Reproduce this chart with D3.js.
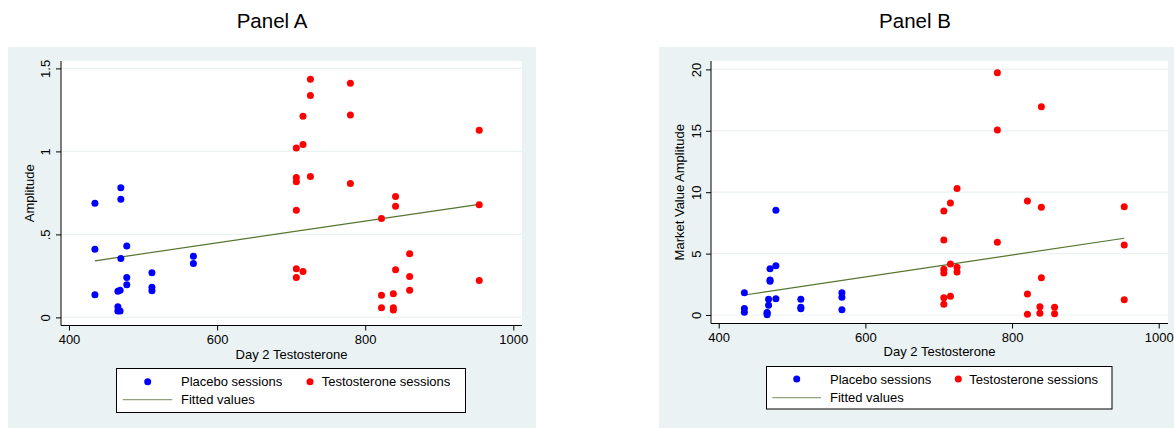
<!DOCTYPE html>
<html>
<head>
<meta charset="utf-8">
<style>
  body { margin: 0; background: #fff; }
  text { font-family: "Liberation Sans", Arial, sans-serif; }
</style>
</head>
<body>
<script src="https://d3js.org/d3.v7.min.js"></script>
<script>
// Panel A: amplitude vs day 2 testosterone
var placeboXA = [435, 435, 435, 470, 470, 470, 466, 466, 466, 469, 469, 478, 478, 478, 512, 512, 512, 568, 568];
var placeboYA = [0.687, 0.41, 0.136, 0.781, 0.711, 0.355, 0.158, 0.064, 0.038, 0.164, 0.038, 0.43, 0.241, 0.196, 0.269, 0.181, 0.16, 0.369, 0.325];
var testoXA = [707, 707, 707, 707, 707, 707, 716, 716, 716, 726, 726, 726, 780, 780, 780, 822, 822, 822, 838, 838, 838, 841, 841, 841, 860, 860, 860, 954, 954, 954];
var testoYA = [1.02, 0.843, 0.817, 0.646, 0.293, 0.241, 1.211, 1.042, 0.277, 1.434, 1.337, 0.849, 1.41, 1.219, 0.807, 0.596, 0.134, 0.058, 0.142, 0.058, 0.044, 0.729, 0.669, 0.287, 0.383, 0.247, 0.163, 1.128, 0.678, 0.223];
var fitXA = [435, 954];
var fitYA = [0.341, 0.681];

// Panel B: market value amplitude vs day 2 testosterone
var placeboXB = [435, 435, 435, 470, 470, 470, 468, 468, 466, 466, 466, 478, 478, 478, 512, 512, 512, 568, 568, 568];
var placeboYB = [1.82, 0.52, 0.22, 3.77, 2.85, 2.74, 1.28, 0.79, 0.2, 0.16, 0.03, 8.53, 4.02, 1.33, 1.28, 0.63, 0.51, 1.82, 1.44, 0.43];
var testoXB = [707, 707, 707, 707, 707, 707, 716, 716, 716, 725, 725, 725, 780, 780, 780, 821, 821, 821, 838, 838, 840, 840, 840, 858, 858, 953, 953, 953];
var testoYB = [8.47, 6.11, 3.72, 3.42, 1.41, 0.87, 9.12, 4.15, 1.52, 10.31, 3.88, 3.5, 19.73, 15.07, 5.92, 9.28, 1.71, 0.06, 0.68, 0.14, 16.96, 8.77, 3.04, 0.63, 0.11, 8.82, 5.7, 1.25];
var fitXB = [435, 953];
var fitYB = [1.63, 6.25];

var xTicks = [400, 600, 800, 1000];
var yTicksA = [0, 0.5, 1, 1.5];
var yTickLabelsA = ["0", ".5", "1", "1.5"];
var yTicksB = [0, 5, 10, 15, 20];
var yTickLabelsB = ["0", "5", "10", "15", "20"];

var width = 1174, height = 428;
var bg = "#eaf2f3";
var fitColor = "#55752f";

var svg = d3.select("body").append("svg")
  .attr("width", width)
  .attr("height", height);

function drawPanel(p) {
  var g = svg.append("g");

  // title
  g.append("text")
    .attr("x", p.titleX).attr("y", 28)
    .attr("text-anchor", "middle")
    .style("font-size", "20.5px")
    .text(p.title);

  // graph region
  g.append("rect")
    .attr("x", p.bgLeft).attr("y", 47)
    .attr("width", p.bgRight - p.bgLeft).attr("height", 381)
    .attr("fill", bg);

  // plot region
  g.append("rect")
    .attr("x", p.left).attr("y", p.top)
    .attr("width", p.right - p.left).attr("height", p.bottom - p.top)
    .attr("fill", "#fff");

  var x = d3.scaleLinear().domain([400, 1000]).range(p.xRange);
  var y = d3.scaleLinear().domain(p.yDomain).range(p.yRange);

  // gridlines
  g.selectAll(".grid").data(p.yTicks).enter().append("line")
    .attr("x1", p.left).attr("x2", p.right)
    .attr("y1", function(d) { return y(d); })
    .attr("y2", function(d) { return y(d); })
    .attr("stroke", bg).attr("stroke-width", 1.2);

  // y axis
  var yAxis = g.append("g")
    .attr("transform", "translate(" + p.left + ",0)")
    .call(d3.axisLeft(y).tickValues(p.yTicks).tickSize(5)
      .tickFormat(function(d, i) { return p.yLabels[i]; }));
  yAxis.select(".domain").remove();
  yAxis.selectAll("text")
    .attr("transform", "rotate(-90)")
    .attr("x", 0).attr("y", p.yLabelOff).attr("dy", 0)
    .attr("text-anchor", "middle")
    .attr("fill", "#000")
    .style("font-size", "13px").style("font-family", "Liberation Sans, Arial, sans-serif");
  g.append("line")
    .attr("x1", p.left).attr("x2", p.left)
    .attr("y1", p.top).attr("y2", p.bottom)
    .attr("stroke", "#000");

  // x axis
  var xAxis = g.append("g")
    .attr("transform", "translate(0," + p.bottom + ")")
    .call(d3.axisBottom(x).tickValues(xTicks).tickSize(5).tickFormat(d3.format("d")));
  xAxis.select(".domain").remove();
  xAxis.selectAll("text")
    .attr("y", p.xLabelOff).attr("dy", 0)
    .attr("fill", "#000")
    .style("font-size", "13px").style("font-family", "Liberation Sans, Arial, sans-serif");
  g.append("line")
    .attr("x1", p.left).attr("x2", p.right)
    .attr("y1", p.bottom).attr("y2", p.bottom)
    .attr("stroke", "#000");

  // axis titles
  g.append("text")
    .attr("x", (p.left + p.right) / 2).attr("y", p.xTitleY)
    .attr("text-anchor", "middle")
    .style("font-size", "13px")
    .text("Day 2 Testosterone");
  g.append("text")
    .attr("transform", "translate(" + p.yTitleX + "," + ((p.top + p.bottom) / 2) + ") rotate(-90)")
    .attr("text-anchor", "middle")
    .style("font-size", "13px")
    .text(p.yTitle);

  // fitted line
  g.append("line")
    .attr("x1", x(p.fitX[0])).attr("x2", x(p.fitX[1]))
    .attr("y1", y(p.fitY[0])).attr("y2", y(p.fitY[1]))
    .attr("stroke", fitColor).attr("stroke-width", 1.2);

  // points
  g.selectAll(".pl").data(p.plX).enter().append("circle")
    .attr("cx", function(d) { return x(d); })
    .attr("cy", function(d, i) { return y(p.plY[i]); })
    .attr("r", 3.5).attr("fill", "#0000ff");
  g.selectAll(".te").data(p.teX).enter().append("circle")
    .attr("cx", function(d) { return x(d); })
    .attr("cy", function(d, i) { return y(p.teY[i]); })
    .attr("r", 3.5).attr("fill", "#ff0000");

  // legend
  var L = p.legend;
  g.append("rect")
    .attr("x", L.x0).attr("y", L.y0)
    .attr("width", L.x1 - L.x0).attr("height", L.y1 - L.y0)
    .attr("fill", "#fff").attr("stroke", "#000").attr("stroke-width", 1);
  g.append("circle").attr("cx", L.dot1).attr("cy", L.row1).attr("r", 3.5).attr("fill", "#0000ff");
  g.append("circle").attr("cx", L.dot2).attr("cy", L.row1).attr("r", 3.5).attr("fill", "#ff0000");
  g.append("line")
    .attr("x1", L.line0).attr("x2", L.line1)
    .attr("y1", L.row2).attr("y2", L.row2)
    .attr("stroke", "#90a37c").attr("stroke-width", 1.2);
  g.append("text").attr("x", L.text1).attr("y", L.row1 + 4.6).style("font-size", "13px").text("Placebo sessions");
  g.append("text").attr("x", L.text2).attr("y", L.row1 + 4.6).style("font-size", "13px").text("Testosterone sessions");
  g.append("text").attr("x", L.text1).attr("y", L.row2 + 4.6).style("font-size", "13px").text("Fitted values");
}

drawPanel({
  title: "Panel A", titleX: 272,
  bgLeft: 8, bgRight: 536,
  left: 61, right: 522, top: 61, bottom: 325.5,
  xRange: [69, 513.3], yDomain: [0, 1.5], yRange: [317.4, 68.4],
  yTicks: yTicksA, yLabels: yTickLabelsA,
  yLabelOff: -11, xLabelOff: 18.7, xTitleY: 358.5, yTitleX: 34,
  yTitle: "Amplitude",
  plX: placeboXA, plY: placeboYA, teX: testoXA, teY: testoYA,
  fitX: fitXA, fitY: fitYA,
  legend: { x0: 116.5, x1: 465.5, y0: 368.5, y1: 412.5, row1: 381.7, row2: 399.7,
            dot1: 147.7, dot2: 310, line0: 122.7, line1: 172.3, text1: 181, text2: 321.7 }
});

drawPanel({
  title: "Panel B", titleX: 915,
  bgLeft: 659, bgRight: 1174,
  left: 711, right: 1168, top: 61, bottom: 323.5,
  xRange: [718.7, 1158.7], yDomain: [0, 20], yRange: [315, 69.4],
  yTicks: yTicksB, yLabels: yTickLabelsB,
  yLabelOff: -10, xLabelOff: 18.2, xTitleY: 356, yTitleX: 684,
  yTitle: "Market Value Amplitude",
  plX: placeboXB, plY: placeboYB, teX: testoXB, teY: testoYB,
  fitX: fitXB, fitY: fitYB,
  legend: { x0: 766.5, x1: 1112, y0: 366.5, y1: 409, row1: 379, row2: 397.7,
            dot1: 796.7, dot2: 958.3, line0: 772.3, line1: 821, text1: 830, text2: 969.3 }
});
</script>
</body>
</html>
